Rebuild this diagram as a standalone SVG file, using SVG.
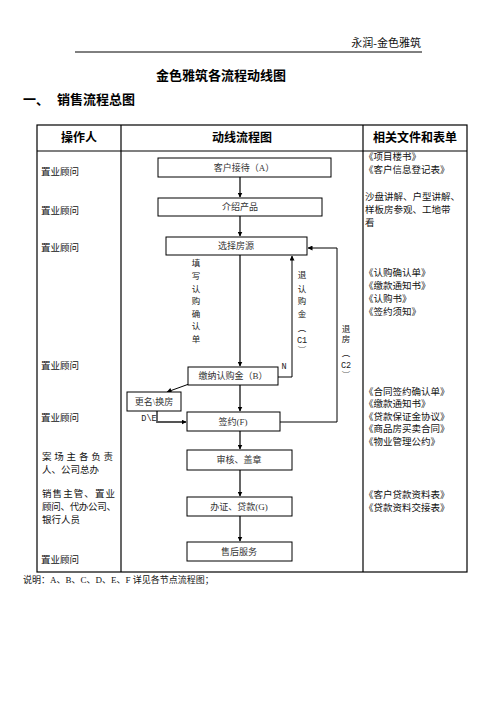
<svg xmlns="http://www.w3.org/2000/svg" width="496" height="702" viewBox="0 0 496 702">
<defs>
<marker id="ah" viewBox="0 0 10 10" refX="9" refY="5" markerWidth="5" markerHeight="5" orient="auto" markerUnits="userSpaceOnUse">
<path d="M0,0 L10,5 L0,10 z" fill="#000"/>
</marker>
<style>
.t{font-family:"Liberation Serif","Noto Sans CJK SC",serif;fill:#111}
.b{font-family:"Liberation Sans","Noto Sans CJK SC",sans-serif;font-weight:bold;fill:#000}
.s{font-size:9.5px}
.bx{fill:#fff;stroke:#000;stroke-width:1}
.bt{font-family:"Liberation Serif","Noto Sans CJK SC",serif;font-size:9px;fill:#333;text-anchor:middle}
.ln{fill:none;stroke:#000;stroke-width:1}
.gl{fill:none;stroke:#555;stroke-width:1.8}
.tb{fill:none;stroke:#000;stroke-width:1.2}
.lab{font-family:"Liberation Mono","Noto Sans CJK SC",monospace;font-size:8.5px;fill:#222;text-anchor:middle}
</style>
</defs>
<rect width="496" height="702" fill="#fff"/>

<g id="header">
<text class="t" x="421" y="47" font-size="11" text-anchor="end">永润-金色雅筑</text>
<line x1="75" y1="52" x2="422" y2="52" stroke="#000" stroke-width="1"/>
</g>
<g id="titles">
<text class="b" x="221" y="80" font-size="13" text-anchor="middle">金色雅筑各流程动线图</text>
<text class="b" x="23" y="104" font-size="13">一、</text>
<text class="b" x="57" y="104" font-size="13">销售流程总图</text>
</g>

<g id="table">
<rect class="tb" x="37" y="125" width="430" height="447"/>
<line class="tb" x1="37" y1="151" x2="467" y2="151"/>
<line class="tb" x1="121" y1="125" x2="121" y2="572"/>
<line class="tb" x1="363" y1="125" x2="363" y2="572"/>
<text class="b" x="79" y="142" font-size="12" text-anchor="middle">操作人</text>
<text class="b" x="242" y="142" font-size="12" text-anchor="middle">动线流程图</text>
<text class="b" x="415" y="142" font-size="12" text-anchor="middle">相关文件和表单</text>
</g>

<g id="operators" class="t s">
<text x="41" y="175">置业顾问</text>
<text x="41" y="214">置业顾问</text>
<text x="41" y="251">置业顾问</text>
<text x="41" y="369">置业顾问</text>
<text x="41" y="421">置业顾问</text>
<text x="42" y="460" textLength="71" lengthAdjust="spacing">案场主各负责</text>
<text x="42" y="473">人、公司总办</text>
<text x="42" y="497" textLength="73" lengthAdjust="spacing">销售主管、置业</text>
<text x="42" y="510" textLength="74" lengthAdjust="spacing">顾问、代办公司、</text>
<text x="42" y="523">银行人员</text>
<text x="41" y="563">置业顾问</text>
</g>

<g id="documents" class="t s">
<text x="364" y="160">《项目楼书》</text>
<text x="364" y="173">《客户信息登记表》</text>
<text x="365" y="200">沙盘讲解、户型讲解、</text>
<text x="365" y="213">样板房参观、工地带</text>
<text x="365" y="226">看</text>
<text x="364" y="276">《认购确认单》</text>
<text x="364" y="289">《缴款通知书》</text>
<text x="364" y="302">《认购书》</text>
<text x="364" y="315">《签约须知》</text>
<text x="364" y="395">《合同签约确认单》</text>
<text x="364" y="407">《缴款通知书》</text>
<text x="364" y="420">《贷款保证金协议》</text>
<text x="364" y="432">《商品房买卖合同》</text>
<text x="364" y="445">《物业管理公约》</text>
<text x="364" y="498">《客户贷款资料表》</text>
<text x="364" y="511">《贷款资料交接表》</text>
</g>

<g id="connectors">
<line class="gl" x1="240" y1="177" x2="240" y2="197" marker-end="url(#ah)"/>
<line class="gl" x1="240" y1="216" x2="240" y2="236" marker-end="url(#ah)"/>
<line class="gl" x1="240" y1="255" x2="240" y2="366" marker-end="url(#ah)"/>
<line class="gl" x1="240" y1="385" x2="240" y2="411" marker-end="url(#ah)"/>
<line class="gl" x1="240" y1="431" x2="240" y2="449" marker-end="url(#ah)"/>
<line class="gl" x1="240" y1="470" x2="240" y2="496" marker-end="url(#ah)"/>
<line class="gl" x1="240" y1="516" x2="240" y2="541" marker-end="url(#ah)"/>
<polyline class="ln" points="278,377 292,377 292,256" marker-end="url(#ah)"/>
<polyline class="ln" points="280,422 337,422 337,248 308,248" marker-end="url(#ah)"/>
<line class="ln" x1="189" y1="384" x2="167" y2="392" marker-end="url(#ah)"/>
<polyline class="gl" points="157,411 157,422 186,422" marker-end="url(#ah)"/>
</g>

<g id="n-A"><rect class="bx" x="158" y="158" width="173" height="19"/><text class="bt" x="244" y="171">客户接待（A）</text></g>
<g id="n-intro"><rect class="bx" x="158" y="198" width="164" height="18"/><text class="bt" x="240" y="210">介绍产品</text></g>
<g id="n-select"><rect class="bx" x="166" y="237" width="141" height="18"/><text class="bt" x="236" y="249">选择房源</text></g>
<g id="n-B"><rect class="bx" x="188" y="367" width="90" height="18"/><text class="bt" x="233" y="379">缴纳认购金（B）</text></g>
<g id="n-rename"><rect class="bx" x="127" y="392" width="54" height="19"/><text class="bt" x="154" y="405">更名\换房</text></g>
<g id="n-F"><rect class="bx" x="187" y="412" width="93" height="19"/><text class="bt" x="233" y="425">签约(F)</text></g>
<g id="n-review"><rect class="bx" x="187" y="450" width="105" height="20"/><text class="bt" x="239" y="463">审核、盖章</text></g>
<g id="n-G"><rect class="bx" x="187" y="497" width="105" height="19"/><text class="bt" x="239" y="510">办证、贷款(G)</text></g>
<g id="n-after"><rect class="bx" x="187" y="542" width="105" height="19"/><text class="bt" x="239" y="555">售后服务</text></g>

<g id="labels" class="lab">
<text x="196" y="266">填</text><text x="196" y="279">写</text><text x="196" y="292">认</text><text x="196" y="304">购</text><text x="196" y="317">确</text><text x="196" y="329">认</text><text x="196" y="342">单</text>
<text x="302" y="278">退</text><text x="302" y="292">认</text><text x="302" y="304">购</text><text x="302" y="317">金</text><text x="302" y="331">︵</text><text x="302" y="343">C1</text><text x="302" y="353">︶</text>
<text x="346" y="332">退</text><text x="346" y="342">房</text><text x="346" y="356">︵</text><text x="346" y="368">C2</text><text x="346" y="378">︶</text>
<text x="284" y="369">N</text>
<text x="149" y="421">D\E</text>
</g>

<g id="note">
<text class="t" x="23" y="583" font-size="9">说明：A、B、C、D、E、F 详见各节点流程图；</text>
</g>
</svg>
